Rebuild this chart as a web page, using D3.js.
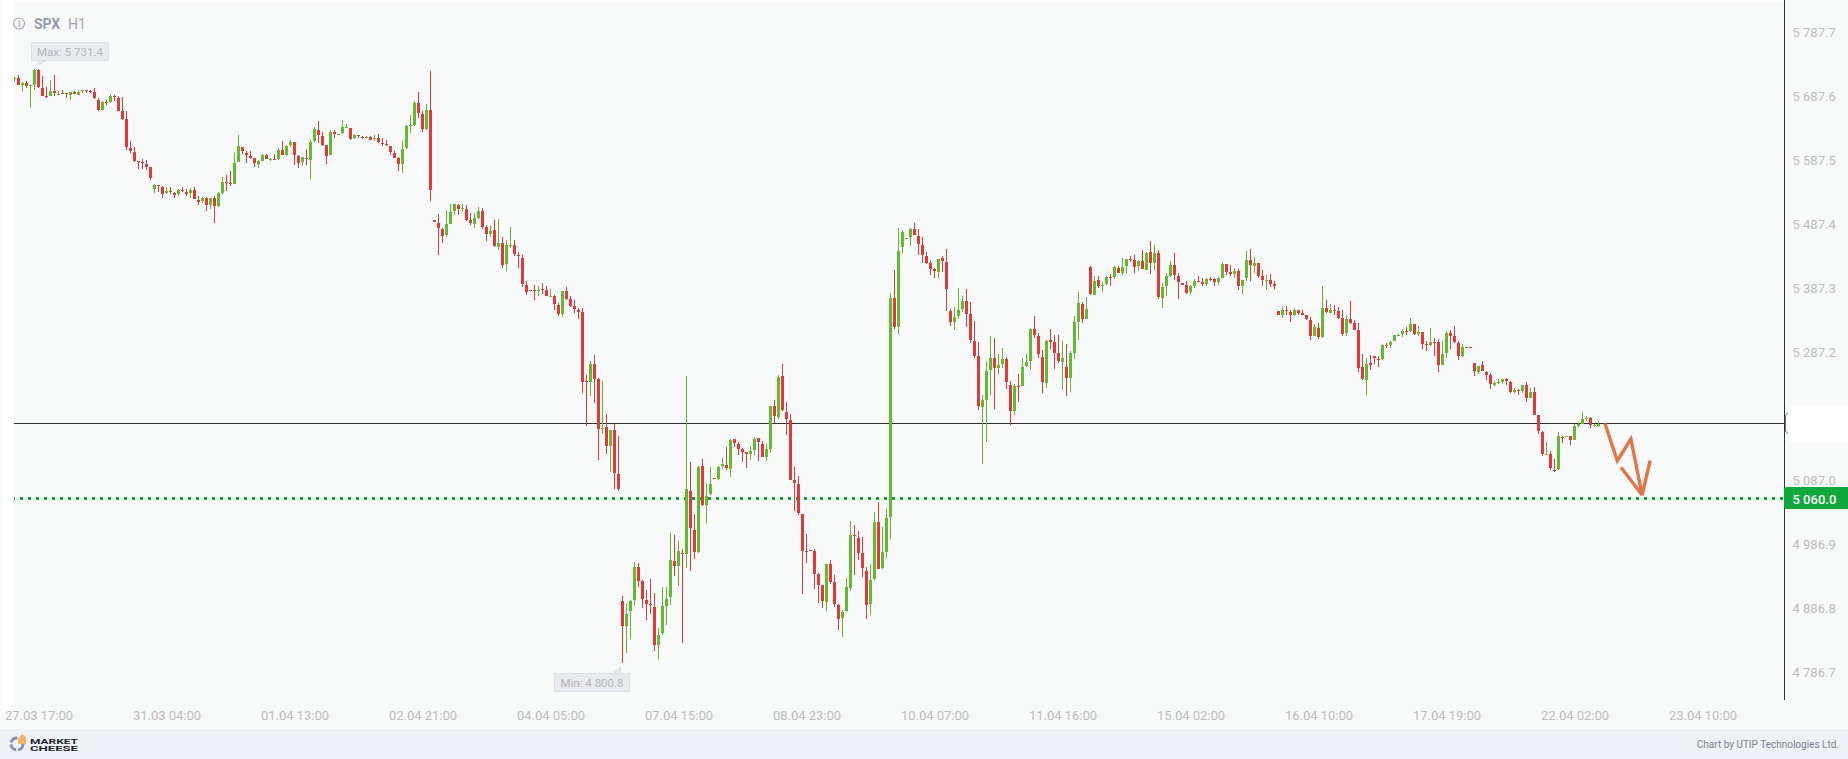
<!DOCTYPE html>
<html><head><meta charset="utf-8">
<script src="https://cdn.jsdelivr.net/npm/d3@7/dist/d3.min.js"></script>
<style>
html,body{margin:0;padding:0;background:#f8f9f9;overflow:hidden}
svg{display:block}
text{font-family:Roboto,sans-serif}
</style></head><body><svg id="c" width="1848" height="759"></svg>
<script>
const opens=[
5715,5716,5706,5708,5704,5705,5729,5701,5688,5688,
5696,5690,5693,5693,5690,5694,5690,5696,5697,5696,
5694,5682,5666,5679,5679,5688,5685,5665,5652,5607,
5600,5586,5585,5582,5577,5543,5549,5546,5536,5539,
5536,5535,5541,5538,5536,5541,5525,5524,5529,5518,
5529,5516,5536,5554,5552,5550,5585,5608,5599,5594,
5591,5582,5586,5596,5588,5589,5589,5604,5596,5611,
5616,5594,5585,5591,5588,5618,5635,5625,5611,5596,
5632,5627,5630,5638,5638,5622,5627,5624,5622,5624,
5621,5622,5615,5613,5610,5599,5591,5582,5607,5641,
5643,5677,5660,5636,5666,5494,5489,5480,5471,5488,
5508,5518,5511,5511,5494,5488,5497,5508,5483,5472,
5478,5452,5458,5425,5453,5455,5439,5435,5392,5385,
5385,5383,5386,5385,5374,5375,5361,5347,5383,5371,
5360,5353,5350,5242,5241,5269,5246,5167,5170,5141,
5166,5097,4898,4859,4883,4900,4952,4930,4900,4894,
4889,4830,4848,4891,4905,4961,4953,4973,4972,5070,
5009,4975,5109,5048,5066,5091,5089,5109,5111,5105,
5152,5144,5136,5131,5128,5134,5153,5144,5124,5136,
5203,5186,5250,5194,5181,5088,5081,5034,4977,4978,
4977,4941,4923,4897,4956,4928,4892,4872,4883,4919,
5002,4997,4973,4945,4894,4933,5022,4950,4975,5030,
5372,5327,5452,5464,5468,5480,5469,5455,5438,5427,
5418,5413,5435,5428,5352,5335,5344,5355,5367,5347,
5305,5281,5202,5213,5260,5278,5263,5269,5277,5236,
5195,5235,5235,5266,5274,5324,5313,5280,5239,5306,
5303,5286,5272,5264,5247,5286,5335,5363,5339,5421,
5377,5400,5391,5394,5405,5405,5419,5411,5422,5433,
5432,5422,5430,5416,5444,5427,5443,5372,5391,5407,
5424,5407,5396,5392,5382,5391,5399,5397,5394,5402,
5402,5397,5403,5425,5413,5410,5414,5391,5403,5432,
5422,5427,5407,5399,5400,5394,5352,5346,5353,5350,
5346,5353,5349,5346,5338,5313,5325,5311,5357,5349,
5353,5352,5341,5317,5339,5333,5322,5264,5244,5270,
5281,5277,5277,5299,5299,5305,5313,5316,5321,5321,
5331,5316,5319,5300,5299,5303,5303,5267,5286,5317,
5313,5302,5281,5296,5296,5270,5256,5267,5256,5252,
5236,5239,5241,5245,5241,5225,5228,5227,5236,5216,
5225,5189,5163,5127,5128,5103,5105,5155,5155,5156,
5150,5172,5175,5183,5184,5172,5172];
const highs=[
5718,5721,5710,5711,5705,5730,5730,5719,5702,5713,
5721,5696,5697,5693,5694,5696,5697,5697,5697,5697,
5701,5685,5680,5682,5691,5690,5688,5686,5665,5618,
5608,5586,5589,5588,5577,5550,5549,5547,5546,5546,
5538,5543,5546,5543,5544,5546,5532,5530,5530,5529,
5532,5538,5561,5564,5571,5599,5627,5608,5602,5602,
5591,5588,5597,5597,5591,5597,5607,5618,5611,5619,
5616,5596,5593,5605,5619,5640,5649,5632,5611,5635,
5635,5629,5650,5644,5638,5629,5627,5625,5625,5625,
5627,5629,5622,5619,5610,5602,5593,5618,5643,5658,
5680,5694,5665,5675,5727,5494,5503,5482,5510,5519,
5519,5519,5519,5518,5505,5505,5514,5513,5486,5486,
5494,5496,5468,5463,5483,5463,5444,5439,5399,5385,
5392,5391,5396,5391,5386,5377,5364,5383,5389,5375,
5369,5356,5356,5252,5274,5283,5247,5242,5191,5166,
5175,5156,4906,4894,4900,4959,4958,4931,4916,4933,
4911,4856,4920,4920,5005,5002,4992,4980,5250,5116,
5034,5109,5120,5083,5108,5091,5109,5122,5139,5152,
5152,5147,5138,5131,5141,5155,5153,5149,5144,5203,
5213,5252,5269,5210,5191,5108,5094,5034,5003,4978,
4980,4942,4923,4956,4962,4939,4894,4884,4934,5023,
5017,5008,4998,4952,4956,5038,5053,5014,5042,5380,
5416,5482,5478,5466,5482,5489,5480,5468,5444,5432,
5419,5433,5438,5449,5355,5358,5388,5375,5386,5366,
5336,5303,5220,5272,5313,5310,5285,5294,5280,5242,
5238,5253,5278,5285,5325,5344,5317,5291,5306,5324,
5314,5314,5305,5300,5289,5344,5382,5366,5374,5422,
5407,5407,5397,5407,5410,5422,5422,5435,5433,5438,
5439,5432,5447,5444,5461,5455,5447,5396,5411,5430,
5443,5411,5396,5399,5392,5402,5407,5403,5403,5405,
5403,5405,5428,5425,5424,5419,5418,5400,5446,5449,
5436,5427,5416,5408,5410,5399,5352,5360,5360,5353,
5357,5353,5353,5346,5342,5332,5333,5391,5369,5363,
5361,5358,5353,5346,5367,5338,5333,5285,5278,5283,
5281,5281,5300,5302,5305,5314,5316,5324,5327,5341,
5331,5328,5319,5305,5325,5310,5308,5305,5321,5322,
5328,5305,5300,5296,5296,5270,5266,5274,5258,5255,
5242,5245,5245,5247,5242,5231,5230,5236,5241,5231,
5233,5189,5164,5147,5133,5120,5163,5156,5156,5156,
5175,5178,5194,5188,5186,5175,5180];
const lows=[
5710,5705,5696,5701,5671,5697,5701,5688,5685,5688,
5688,5690,5691,5685,5682,5691,5690,5693,5693,5693,
5683,5665,5666,5674,5677,5680,5665,5650,5604,5599,
5585,5574,5574,5572,5557,5536,5538,5529,5535,5535,
5529,5532,5538,5532,5529,5527,5518,5521,5508,5511,
5489,5514,5535,5539,5547,5550,5585,5597,5583,5589,
5577,5575,5586,5589,5586,5588,5588,5596,5594,5608,
5580,5575,5579,5580,5558,5616,5615,5610,5582,5596,
5622,5627,5629,5638,5619,5621,5622,5621,5622,5619,
5618,5615,5610,5610,5596,5591,5571,5568,5605,5630,
5641,5654,5632,5635,5524,5491,5439,5458,5468,5488,
5502,5502,5507,5493,5486,5482,5496,5480,5461,5468,
5452,5447,5419,5414,5450,5438,5419,5389,5377,5383,
5369,5375,5378,5375,5374,5353,5344,5342,5369,5358,
5349,5339,5224,5172,5219,5208,5119,5160,5128,5100,
5073,5070,4800.8,4817,4839,4891,4920,4887,4869,4878,
4820,4808,4845,4861,4892,4937,4922,4833,4950,4945,
4964,4973,5047,5020,5064,5089,5088,5105,5103,5092,
5139,5127,5116,5106,5119,5127,5117,5124,5117,5130,
5177,5183,5195,5158,5088,5039,5033,4909,4958,4977,
4917,4895,4887,4883,4925,4889,4853,4842,4881,4914,
4939,4962,4936,4870,4876,4931,4948,4948,4966,4995,
5324,5316,5443,5464,5453,5471,5439,5427,5425,5408,
5403,5403,5413,5352,5328,5322,5339,5350,5327,5302,
5278,5197,5113,5147,5220,5199,5253,5263,5230,5174,
5189,5210,5235,5264,5260,5310,5278,5224,5231,5292,
5261,5271,5228,5219,5225,5277,5306,5333,5339,5377,
5377,5388,5382,5392,5391,5402,5411,5408,5410,5428,
5411,5414,5418,5416,5410,5416,5371,5357,5375,5405,
5400,5371,5392,5378,5378,5388,5397,5391,5391,5399,
5391,5392,5403,5408,5407,5403,5385,5378,5399,5399,
5411,5403,5391,5385,5389,5386,5346,5341,5346,5335,
5344,5346,5346,5338,5306,5313,5308,5310,5349,5349,
5346,5339,5313,5313,5331,5322,5256,5244,5220,5260,
5269,5264,5275,5294,5294,5305,5313,5311,5314,5319,
5314,5313,5292,5289,5297,5281,5256,5267,5278,5292,
5302,5275,5280,5294,5294,5250,5253,5258,5244,5230,
5234,5238,5238,5236,5224,5224,5220,5224,5210,5216,
5189,5159,5125,5127,5103,5100,5103,5145,5155,5142,
5150,5170,5175,5180,5169,5170,5170];
const closes=[
5717,5705,5708,5704,5705,5729,5702,5688,5686,5696,
5693,5691,5692,5691,5694,5691,5694,5697,5696,5694,
5685,5666,5679,5677,5688,5687,5665,5652,5608,5602,
5586,5585,5583,5577,5560,5549,5547,5535,5539,5538,
5533,5541,5539,5535,5541,5527,5522,5529,5518,5529,
5516,5536,5554,5552,5550,5583,5610,5602,5596,5591,
5583,5586,5596,5589,5589,5588,5604,5596,5610,5616,
5596,5583,5593,5589,5616,5636,5627,5611,5594,5632,
5629,5629,5640,5640,5621,5627,5625,5622,5624,5619,
5622,5616,5613,5611,5600,5591,5582,5605,5641,5643,
5677,5661,5636,5666,5541,5491,5482,5469,5488,5507,
5519,5511,5513,5494,5489,5497,5508,5483,5472,5477,
5453,5458,5424,5455,5455,5441,5438,5394,5381,5383,
5383,5385,5385,5375,5375,5363,5347,5383,5371,5360,
5355,5350,5241,5241,5269,5246,5167,5169,5141,5166,
5099,5073,4859,4878,4898,4952,4930,4901,4894,4892,
4830,4845,4891,4901,4962,4953,4977,4972,5073,5013,
4975,5108,5048,5063,5081,5089,5108,5113,5106,5150,
5145,5136,5131,5128,5133,5152,5147,5124,5136,5203,
5188,5249,5197,5183,5088,5083,5036,4977,4975,4977,
4941,4923,4898,4956,4928,4894,4870,4881,4920,5002,
5000,4973,4950,4892,4931,5022,4948,4975,5028,5372,
5327,5446,5475,5466,5480,5471,5457,5439,5427,5418,
5414,5433,5430,5386,5335,5342,5353,5367,5347,5306,
5281,5203,5213,5258,5278,5263,5267,5277,5241,5195,
5235,5233,5264,5272,5324,5314,5285,5241,5305,5303,
5286,5274,5278,5247,5286,5335,5364,5339,5355,5378,
5399,5391,5392,5405,5403,5421,5411,5421,5433,5432,
5421,5430,5418,5443,5427,5443,5374,5389,5407,5424,
5408,5397,5392,5380,5391,5399,5397,5394,5402,5400,
5397,5403,5425,5413,5410,5414,5391,5400,5432,5424,
5427,5407,5400,5400,5394,5391,5346,5353,5352,5346,
5353,5349,5346,5339,5313,5327,5311,5357,5350,5353,
5352,5341,5316,5339,5333,5322,5263,5245,5269,5267,
5278,5275,5299,5297,5303,5314,5314,5321,5319,5331,
5316,5319,5300,5299,5303,5302,5267,5285,5317,5313,
5303,5281,5296,5294,5294,5258,5266,5258,5252,5238,
5239,5241,5245,5242,5225,5228,5227,5236,5216,5225,
5189,5164,5128,5128,5106,5102,5156,5153,5156,5150,
5172,5175,5183,5184,5174,5174,5175];

const yTicks=[5787.7,5687.6,5587.5,5487.4,5387.3,5287.2,5087.0,4986.9,4886.8,4786.7];
const xTickIdx=[6,38,70,102,134,166,198,230,262,294,326,358,390,422];
const xTickLabels=["27.03 17:00","31.03 04:00","01.04 13:00","02.04 21:00","04.04 05:00","07.04 15:00","08.04 23:00","10.04 07:00","11.04 16:00","15.04 02:00","16.04 10:00","17.04 19:00","22.04 02:00","23.04 10:00"];
const currentPrice=5176.2, targetPrice=5060.0;
const maxLabel="Max: 5 731.4", minLabel="Min: 4 800.8";
const arrowMain=[[397.6,5176.2],[400.7,5117.7],[404.1,5151.6],[406.9,5064],[408.9,5117.7]];
const arrowBarb=[[401.6,5107.4],[406.9,5064]];

const GREEN="#63ba30",RED="#e13a3b",AXIS="#333",TICK="#bcbcbc";
const fmt=v=>{const s=v.toFixed(1);return s[0]+" "+s.slice(1)};
const svg=d3.select("#c");
const x=d3.scaleLinear().domain([0,396]).range([14.5,1598.5]);
const y=d3.scaleLinear().domain([5487.4,4986.9]).range([224.3,544.3]);
const R=v=>Math.round(v);

svg.append("rect").attr("width",1848).attr("height",759).attr("fill","#f8f9f9");
svg.append("rect").attr("x",2).attr("y",0).attr("width",12).attr("height",713).attr("fill","#fff");
svg.append("rect").attr("x",2).attr("y",0).attr("width",1783).attr("height",2).attr("fill","#fff");
svg.append("rect").attr("x",1788).attr("y",405).attr("width",60).attr("height",38).attr("fill","#fff");
svg.append("rect").attr("y",729).attr("width",1848).attr("height",30).attr("fill","#eef1f6");

const defs=svg.append("defs");
defs.append("clipPath").attr("id","plot").append("rect").attr("x",14).attr("y",0).attr("width",1770).attr("height",729);
const plot=svg.append("g").attr("clip-path","url(#plot)");

plot.append("rect").attr("x",14).attr("y",R(y(currentPrice))).attr("width",1770).attr("height",1).attr("fill","#2f2f2f");
plot.append("line").attr("x1",12).attr("x2",1784).attr("y1",y(targetPrice)+.7).attr("y2",y(targetPrice)+.7)
 .attr("stroke","#10a83c").attr("stroke-width",3).attr("stroke-dasharray","3 5").attr("shape-rendering","crispEdges");

const idx=d3.range(opens.length);
const col=i=>closes[i]>=opens[i]?GREEN:RED;
const cg=plot.append("g").attr("shape-rendering","crispEdges");
cg.selectAll("rect.w").data(idx).join("rect").attr("class","w")
 .attr("x",i=>Math.floor(x(i))).attr("width",1)
 .attr("y",i=>R(y(highs[i])))
 .attr("height",i=>Math.max(1,R(y(lows[i]))-R(y(highs[i]))))
 .attr("fill",col);
cg.selectAll("rect.b").data(idx).join("rect").attr("class","b")
 .attr("x",i=>Math.floor(x(i))-1).attr("width",3)
 .attr("y",i=>R(y(Math.max(opens[i],closes[i]))))
 .attr("height",i=>Math.max(1,R(y(Math.min(opens[i],closes[i])))-R(y(Math.max(opens[i],closes[i])))))
 .attr("fill",col);

const ln=d3.line().x(d=>x(d[0])).y(d=>y(d[1]));
[arrowMain,arrowBarb].forEach(p=>plot.append("path").attr("d",ln(p)).attr("fill","none")
 .attr("stroke","#df6f3f").attr("stroke-width",3.4).attr("stroke-linejoin","miter").attr("opacity",.95));

function callout(label,bx,by,w,h,tx,ty,bx1,bx2,edge){
 const g=svg.append("g");
 g.append("path").attr("d",`M${bx},${by}H${bx+w}V${by+h}H${bx}Z`).attr("fill","#e9ebee").attr("stroke","#dcdfe3").attr("stroke-width",1);
 g.append("path").attr("d",`M${bx1},${edge}L${tx},${ty}L${bx2},${edge}Z`).attr("fill","#e9ebee").attr("stroke","#dcdfe3");
 g.append("text").attr("x",bx+w/2).attr("y",by+h/2+4).attr("text-anchor","middle").attr("font-size",11.5).attr("fill","#b4b6ba").text(label);
}
callout(maxLabel,31.5,42.5,77,18,x(6)-.5,65,38,46,60.5);
callout(minLabel,554.5,673.5,75,18,x(152)-2,y(4800.8)+4,612,621,674);

svg.append("rect").attr("x",1784).attr("y",0).attr("width",1).attr("height",700).attr("fill",AXIS);
const yAxis=d3.axisRight(y).tickValues(yTicks).tickFormat(fmt).tickSize(0).tickPadding(8);
const yg=svg.append("g").attr("transform","translate(1784.5,0)").call(yAxis);
yg.select(".domain").remove();
yg.selectAll("text").attr("font-size",13).attr("font-family","Roboto").attr("fill",TICK);
const xAxis=d3.axisBottom(x).tickValues(xTickIdx).tickFormat((d,i)=>xTickLabels[i]).tickSize(0).tickPadding(0);
const xg=svg.append("g").attr("transform","translate(0,710.7)").call(xAxis);
xg.select(".domain").remove();
xg.selectAll("text").attr("font-size",13).attr("font-family","Roboto").attr("fill",TICK);

svg.append("path").attr("d",`M1788,413 L1785.5,415 V431 L1788,434`).attr("fill","none").attr("stroke","#6d7183").attr("stroke-width",1);
const ly=y(targetPrice);
svg.append("path").attr("d",`M1784,${R(ly)-8}a3,3 0 0 1 3,-3H1848V${R(ly)+11}H1787a3,3 0 0 1 -3,-3Z`).attr("fill","#10a83c");
svg.append("text").attr("x",1792.5).attr("y",R(ly)+5.5).attr("font-size",13).attr("font-weight",500).attr("fill","#fff").text(fmt(targetPrice));

svg.append("circle").attr("cx",19).attr("cy",23.5).attr("r",5.5).attr("fill","none").attr("stroke","#a6a8b8").attr("stroke-width",1.2);
svg.append("rect").attr("x",18.5).attr("y",20).attr("width",1.2).attr("height",7).attr("fill","#a6a8b8");
svg.append("text").attr("x",34).attr("y",29).attr("font-size",14).attr("font-weight",700).attr("fill","#9799ad").text("SPX");
svg.append("text").attr("x",68).attr("y",29).attr("font-size",14).attr("fill","#a2a4b4").text("H1");

const logo=svg.append("g");
logo.append("circle").attr("cx",17).attr("cy",744).attr("r",6).attr("fill","none").attr("stroke","#8b8eae").attr("stroke-width",3).attr("stroke-dasharray","8 2");
logo.append("path").attr("d","M18,739L22,734L26,737V744H18Z").attr("fill","#f0b468");
logo.append("text").attr("x",30).attr("y",743.5).attr("font-family","'DejaVu Sans'").attr("font-weight",700).attr("font-size",8).attr("textLength",48).attr("lengthAdjust","spacingAndGlyphs").attr("fill","#23252f").text("MARKET");
logo.append("text").attr("x",30).attr("y",751).attr("font-family","'DejaVu Sans'").attr("font-weight",700).attr("font-size",8).attr("textLength",48).attr("lengthAdjust","spacingAndGlyphs").attr("fill","#23252f").text("CHEESE");
svg.append("text").attr("x",1839).attr("y",748).attr("text-anchor","end").attr("font-size",10).attr("fill","#7f8294").text("Chart by UTIP Technologies Ltd.");
</script></body></html>
